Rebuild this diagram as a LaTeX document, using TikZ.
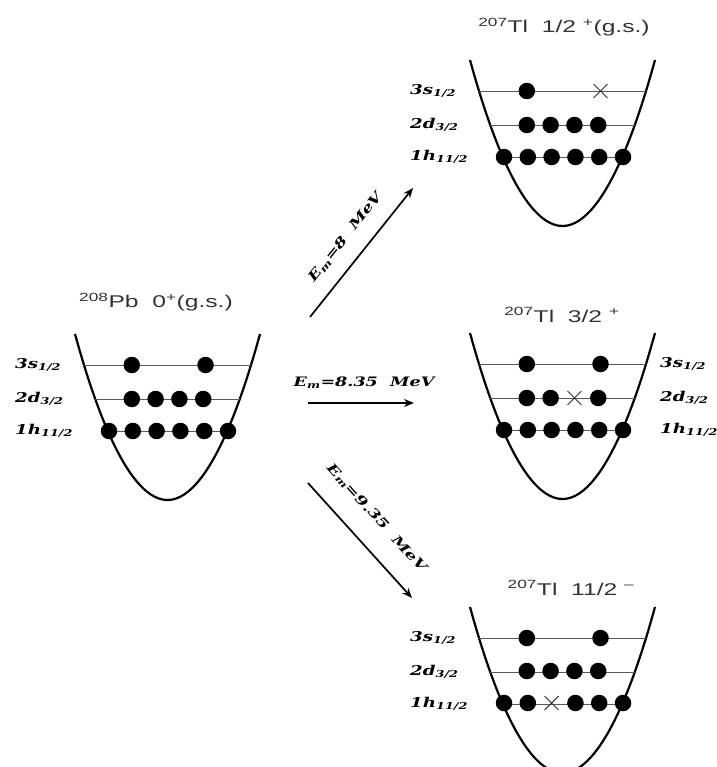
\documentclass[tikz,border=0pt]{standalone}
\usepackage{fontspec}
\newfontfamily\titlefont[FakeStretch=1.45]{Liberation Sans}
\newfontfamily\lvlfont[FakeStretch=1.35]{DejaVu Serif}
\usetikzlibrary{arrows.meta,shapes.misc}
\newcommand\drawwell[2]{%
  \draw[wellline] ({#1-92.5},#2) parabola bend (#1,{#2+166}) ({#1+92.5},#2);
  \draw[levelline] ({#1-83.4},{#2+31}) -- ({#1+83.4},{#2+31});
  \draw[levelline] ({#1-72.2},{#2+65}) -- ({#1+72.2},{#2+65});
  \draw[levelline] ({#1-59.6},{#2+97}) -- ({#1+59.6},{#2+97});
}
\newcommand\dotrow[4]{% prefix, center x, y, offsets
  \foreach \dx [count=\i] in {#4} {\node[pdot] (#1\i) at ({#2+\dx},#3) {};}
}
\newcommand\levellabels[3]{% prefix, x, top y
  \node[lvl] (#1s) at (#2,{#3+31}) {3s\textsubscript{1/2}};
  \node[lvl] (#1d) at (#2,{#3+65}) {2d\textsubscript{3/2}};
  \node[lvl] (#1h) at (#2,{#3+97}) {1h\textsubscript{11/2}};
}
\newcommand\Em{E\textsubscript{m}}
\begin{document}
\begin{tikzpicture}[x=1pt,y=-1pt,
  wellline/.style={line width=2.2pt},
  levelline/.style={line width=0.8pt, black!65},
  pdot/.style={circle, fill=black, inner sep=0pt, minimum size=16.5pt},
  hole/.style={cross out, draw=black!80, line width=0.9pt, inner sep=0pt, minimum size=13pt},
  lvl/.style={font=\lvlfont\fontsize{13.5}{16}\selectfont\bfseries\itshape, anchor=west, inner sep=0pt},
  ttl/.style={font=\titlefont\fontsize{17}{20}\selectfont, text=black!80, inner sep=0pt},
  trans/.style={-{Stealth[length=10pt,width=8pt]}, line width=1.7pt},
  elabel/.style={font=\lvlfont\fontsize{13}{15}\selectfont\bfseries\itshape, inner sep=0pt}
]
\useasboundingbox (0,0) rectangle (716,767);
\clip (0,0) rectangle (716,767);

% ---- left well: 208Pb
\node[ttl] (tpb) at (156,302) {\textsuperscript{208}Pb\ \ 0\textsuperscript{+}(g.s.)};
\drawwell{167.5}{334}
\levellabels{lpb}{15}{334}
\dotrow{pbs}{167.5}{365}{-35.7,38}
\dotrow{pbd}{167.5}{399}{-35.7,-11.9,11.9,35.7}
\dotrow{pbh}{167.5}{431}{-58.5,-34.7,-10.9,12.9,36.7,60.5}

% ---- top right well: 207Tl 1/2+
\node[ttl] (tga) at (564,27) {\textsuperscript{207}Tl\ \ 1/2 \textsuperscript{+}(g.s.)};
\drawwell{562.5}{60}
\levellabels{lga}{410}{60}
\dotrow{gas}{562.5}{91}{-35.7}
\node[hole] (gax) at ({562.5+38},91) {};
\dotrow{gad}{562.5}{125}{-35.7,-11.9,11.9,35.7}
\dotrow{gah}{562.5}{157}{-58.5,-34.7,-10.9,12.9,36.7,60.5}

% ---- middle right well: 207Tl 3/2+
\node[ttl] (tmb) at (562,315) {\textsuperscript{207}Tl\ \ 3/2 \textsuperscript{+}};
\drawwell{562.5}{333}
\levellabels{lmb}{660}{333}
\dotrow{mbs}{562.5}{364}{-35.7,38}
\dotrow{mbd}{562.5}{398}{-35.7,-11.9,35.7}
\node[hole] (mbx) at ({562.5+11.9},398) {};
\dotrow{mbh}{562.5}{430}{-58.5,-34.7,-10.9,12.9,36.7,60.5}

% ---- bottom right well: 207Tl 11/2-
\node[ttl] (tbc) at (571,588) {\textsuperscript{207}Tl\ \ 11/2 \textsuperscript{–}};
\drawwell{562.5}{607}
\levellabels{lbc}{410}{607}
\dotrow{bcs}{562.5}{638}{-35.7,38}
\dotrow{bcd}{562.5}{671}{-35.7,-11.9,11.9,35.7}
\dotrow{bch}{562.5}{703}{-58.5,-34.7,12.9,36.7,60.5}
\node[hole] (bcx) at ({562.5-10.9},703) {};

% ---- transitions
\coordinate (a1s) at (310,317);
\coordinate (a1e) at (413,188);
\coordinate (a2s) at (308,403);
\coordinate (a2e) at (414,403);
\coordinate (a3s) at (308,483);
\coordinate (a3e) at (412,598);
\draw[trans] (a1s) -- (a1e);
\draw[trans] (a2s) -- (a2e);
\draw[trans] (a3s) -- (a3e);
\node[elabel, rotate=51.4] (l1) at (346,237) {\Em=8\ \ MeV};
\node[elabel] (l2) at (364,383) {\Em=8.35\ \ MeV};
\node[elabel, rotate=-47.9] (l3) at (377,518) {\Em=9.35\ \ MeV};
\end{tikzpicture}
\end{document}
